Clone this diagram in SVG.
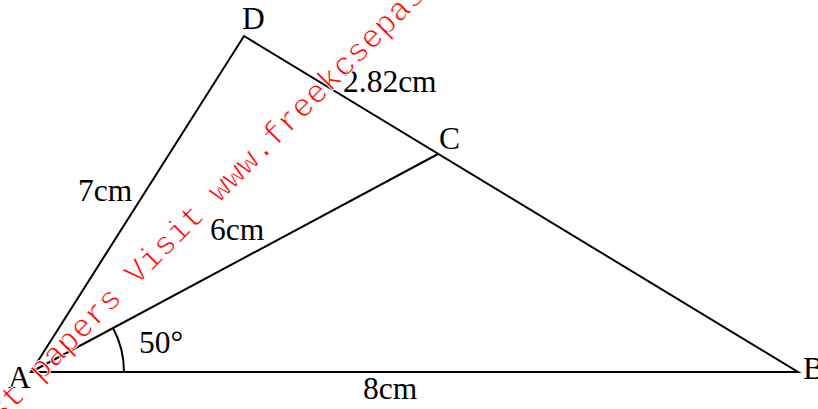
<svg xmlns="http://www.w3.org/2000/svg" width="818" height="409" viewBox="0 0 818 409">
<style>
.ln{fill:none;stroke:#000;stroke-width:2;stroke-linejoin:miter}
.lb{font-family:"Liberation Serif","Times New Roman",serif;font-size:31.5px;fill:#000}
.wm{font-family:"Liberation Mono","Courier New",monospace;font-size:32.5px;fill:#ff0000;stroke:#fff;stroke-width:0.9;paint-order:fill}
</style>
<rect width="818" height="409" fill="#fff"/>
<g id="connectors">
<path class="ln" d="M31 372 L244 36 L798 372 Z"/>
<path class="ln" d="M31 372 L438 154"/>
<path class="ln" d="M124 372 A93 93 0 0 0 113 328"/>
</g>
<g id="A"><text class="lb" x="8" y="388">A</text></g>
<g id="B"><text class="lb" x="803" y="379">B</text></g>
<g id="C"><text class="lb" x="439" y="149">C</text></g>
<g id="D"><text class="lb" x="242" y="29">D</text></g>
<g id="labels">
<text class="lb" x="343" y="92">2.82cm</text>
<text class="lb" x="78" y="201">7cm</text>
<text class="lb" x="210" y="240">6cm</text>
<text class="lb" x="139" y="353">50°</text>
<text class="lb" x="363" y="399">8cm</text>
</g>
<g id="watermark">
<text class="wm" transform="translate(40.5,382.5) rotate(-45)" x="-97.5" y="0">past papers Visit www.freekcsepastpapers.com</text>
</g>
</svg>
